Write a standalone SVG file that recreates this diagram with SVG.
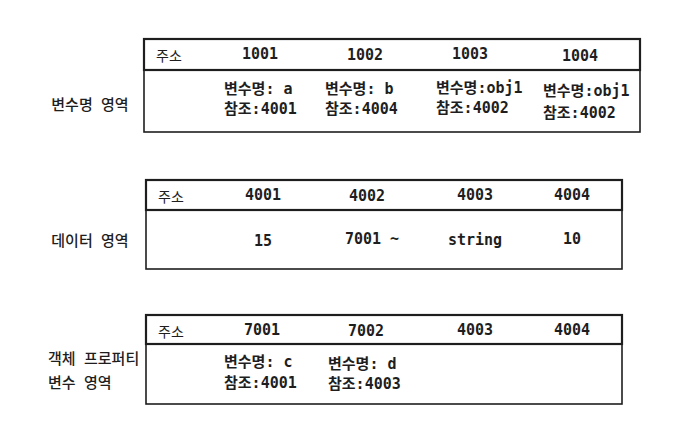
<svg xmlns="http://www.w3.org/2000/svg" width="682" height="443" viewBox="0 0 682 443">
<style>
.box{fill:none;stroke:#1e1e1e;stroke-width:1.6}
.hd{fill:none;stroke:#1e1e1e;stroke-width:2.2}
.t{font-family:"DejaVu Sans Mono","Noto Sans CJK KR",monospace;font-size:15px;fill:#1e1e1e;font-weight:bold}
.k{font-family:"Noto Sans CJK KR","Noto Sans",sans-serif;font-size:14px;fill:#1e1e1e}
.l{font-family:"Noto Sans CJK KR","Noto Sans",sans-serif;font-size:15px;fill:#1e1e1e;font-weight:500;word-spacing:5px}
.m{text-anchor:middle}
</style>
<rect width="682" height="443" fill="#ffffff"/>
<g id="label-var">
<text class="l" x="90" y="110" text-anchor="middle">변수명 영역</text>
</g>
<g id="label-data">
<text class="l" x="90" y="246" text-anchor="middle">데이터 영역</text>
</g>
<g id="label-obj">
<text class="l" x="48" y="364">객체 프로퍼티</text>
<text class="l" x="48" y="388">변수 영역</text>
</g>
<g id="table-var">
<rect class="box" x="144" y="39" width="496" height="93"/>
<rect class="hd" x="144" y="39" width="496" height="31"/>
<text class="k" x="156" y="61">주소</text>
<text class="t m" x="260" y="59">1001</text>
<text class="t m" x="365" y="60">1002</text>
<text class="t m" x="470" y="59">1003</text>
<text class="t m" x="580" y="61">1004</text>
<text class="t" x="224" y="94">변수명: a</text>
<text class="t" x="224" y="114">참조:4001</text>
<text class="t" x="325" y="94">변수명: b</text>
<text class="t" x="325" y="114">참조:4004</text>
<text class="t" x="436" y="93">변수명:obj1</text>
<text class="t" x="436" y="113">참조:4002</text>
<text class="t" x="543" y="96">변수명:obj1</text>
<text class="t" x="543" y="118">참조:4002</text>
</g>
<g id="table-data">
<rect class="box" x="146" y="180" width="476" height="89"/>
<rect class="hd" x="146" y="180" width="476" height="30"/>
<text class="k" x="158" y="202">주소</text>
<text class="t m" x="263" y="200">4001</text>
<text class="t m" x="367" y="201">4002</text>
<text class="t m" x="475" y="200">4003</text>
<text class="t m" x="572" y="200">4004</text>
<text class="t m" x="263" y="246">15</text>
<text class="t m" x="372" y="244">7001 ~</text>
<text class="t m" x="475" y="245">string</text>
<text class="t m" x="572" y="244">10</text>
</g>
<g id="table-obj">
<rect class="box" x="146" y="315" width="476" height="89"/>
<rect class="hd" x="146" y="315" width="476" height="29"/>
<text class="k" x="158" y="337">주소</text>
<text class="t m" x="262" y="335">7001</text>
<text class="t m" x="366" y="336">7002</text>
<text class="t m" x="475" y="335">4003</text>
<text class="t m" x="572" y="335">4004</text>
<text class="t" x="224" y="367">변수명: c</text>
<text class="t" x="224" y="388">참조:4001</text>
<text class="t" x="328" y="369">변수명: d</text>
<text class="t" x="328" y="389">참조:4003</text>
</g>
<g id="connectors"></g>
</svg>
